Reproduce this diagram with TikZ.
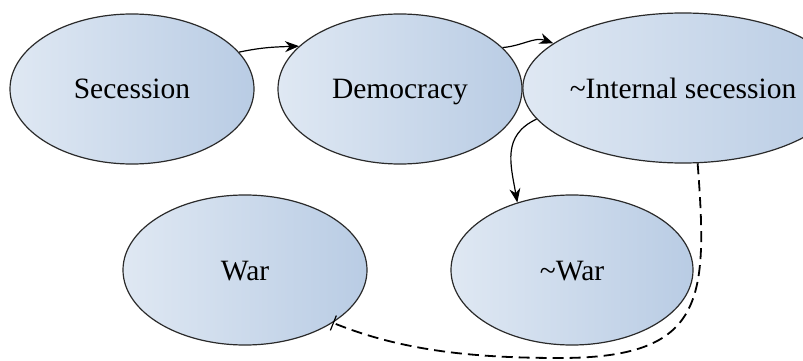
\documentclass[tikz,border=0pt]{standalone}
\usepackage{fontspec}
\setmainfont{Liberation Serif}
\usetikzlibrary{shapes.geometric,arrows.meta}
\definecolor{fillL}{HTML}{DFE8F3}
\definecolor{fillR}{HTML}{B9CCE4}
\definecolor{rim}{HTML}{2A2A2A}
\begin{document}
\begin{tikzpicture}[x=1pt,y=-1pt,
  state/.style={ellipse,draw=rim,line width=1.2pt,left color=fillL,right color=fillR,
    minimum width=244pt,minimum height=150pt,inner sep=0pt,
    text height=26pt,text depth=6pt,
    font=\fontsize{29.5}{34}\selectfont},
  cause/.style={line width=1.2pt,-{Stealth[length=14pt,width=11pt]}},
  block/.style={line width=1.8pt,dash pattern=on 11pt off 6pt,-{Bar[width=16pt,line width=1.2pt]}}]
\useasboundingbox (0,0) rectangle (803,361);
% states
\node[state] (sec) at (132,89) {Secession};
\node[state] (dem) at (400,89) {Democracy};
\node[state,minimum width=238pt] (ins) at (683,88) {\textasciitilde Internal secession};
\node[state] (war) at (245,270) {War};
\node[state,minimum width=242pt] (nwar) at (572,270) {\textasciitilde War};
% causal links
\draw[cause] (sec.19) to[out=12,in=182] (dem.157);
\draw[cause] (dem.22) to[out=5,in=160] (ins.161);
\draw[cause] (ins.192) to[out=205,in=100,looseness=1.15] (nwar.129);
% blocking link
\draw[block] (ins.-79) .. controls (708,300) and (705,358) .. (560,358)
  .. controls (470,358) and (400,350) .. (war.-31);
\end{tikzpicture}
\end{document}
